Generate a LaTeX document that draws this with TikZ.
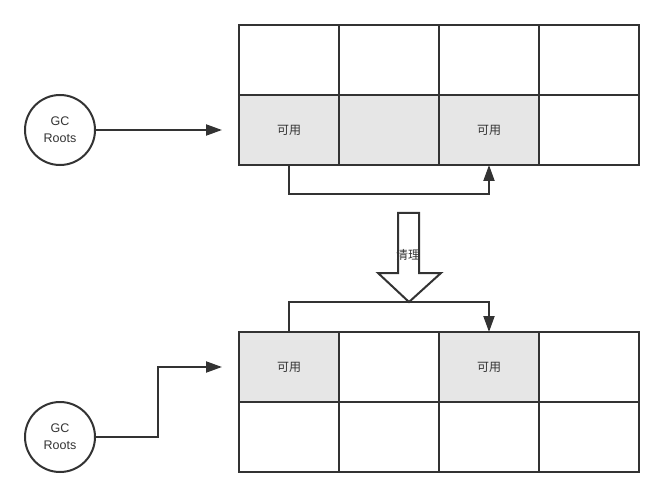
\documentclass[tikz,border=0pt]{standalone}
\usepackage{fontspec}
\setmainfont{Liberation Sans}
\newfontfamily\cjk{Noto Sans CJK SC}
\usetikzlibrary{arrows.meta}
\definecolor{ln}{HTML}{333333}
\definecolor{cellgray}{HTML}{E6E6E6}
\tikzset{
  cellbox/.style={draw=ln, line width=2pt, minimum width=100pt, minimum height=70pt, inner sep=0pt, outer sep=0pt, anchor=north west, font=\cjk\fontsize{12}{14}\selectfont, text=ln},
  filled/.style={fill=cellgray},
  root/.style={draw=ln, line width=2pt, circle, minimum size=70pt, inner sep=0pt, align=center, font=\fontsize{12.5}{17}\selectfont, text=ln},
  conn/.style={draw=ln, line width=2pt, -{Triangle[length=16pt,width=11pt]}},
  plain/.style={draw=ln, line width=2pt},
}
\begin{document}
\begin{tikzpicture}[x=1pt,y=-1pt]
\useasboundingbox (0,0) rectangle (664,497);
% top grid
\node[cellbox] (t11) at (239,25) {};
\node[cellbox] (t12) at (339,25) {};
\node[cellbox] (t13) at (439,25) {};
\node[cellbox] (t14) at (539,25) {};
\node[cellbox,filled] (t21) at (239,95) {可用};
\node[cellbox,filled] (t22) at (339,95) {};
\node[cellbox,filled] (t23) at (439,95) {可用};
\node[cellbox] (t24) at (539,95) {};
% bottom grid
\node[cellbox,filled] (b11) at (239,332) {可用};
\node[cellbox] (b12) at (339,332) {};
\node[cellbox,filled] (b13) at (439,332) {可用};
\node[cellbox] (b14) at (539,332) {};
\node[cellbox] (b21) at (239,402) {};
\node[cellbox] (b22) at (339,402) {};
\node[cellbox] (b23) at (439,402) {};
\node[cellbox] (b24) at (539,402) {};
% GC roots
\node[root] (r1) at (60,130) {GC\\Roots};
\node[root] (r2) at (60,437) {GC\\Roots};
\coordinate (a1) at (222,130);
\coordinate (a2) at (222,367);
\draw[conn] (r1.east) -- (a1);
\draw[conn] (r2.east) -- (158,437) -- (158,367) -- (a2);
% top loop connector
\draw[conn] (t21.south) -- ++(0,29) -| (t23.south);
% hollow arrow
\draw[ln, line width=2pt, fill=white, line join=miter]
  (398,213) -- (419,213) -- (419,273) -- (441,273) -- (409,302) -- (378,273) -- (398,273) -- cycle;
\node[font=\cjk\fontsize{12}{14}\selectfont, text=ln] (clean) at (408,255) {清理};
% bottom connector
\coordinate (tip) at (409,302);
\draw[plain] (b11.north) -- (289,302) -- (tip);
\draw[conn] (tip) -- (489,302) -- (b13.north);
\end{tikzpicture}
\end{document}
